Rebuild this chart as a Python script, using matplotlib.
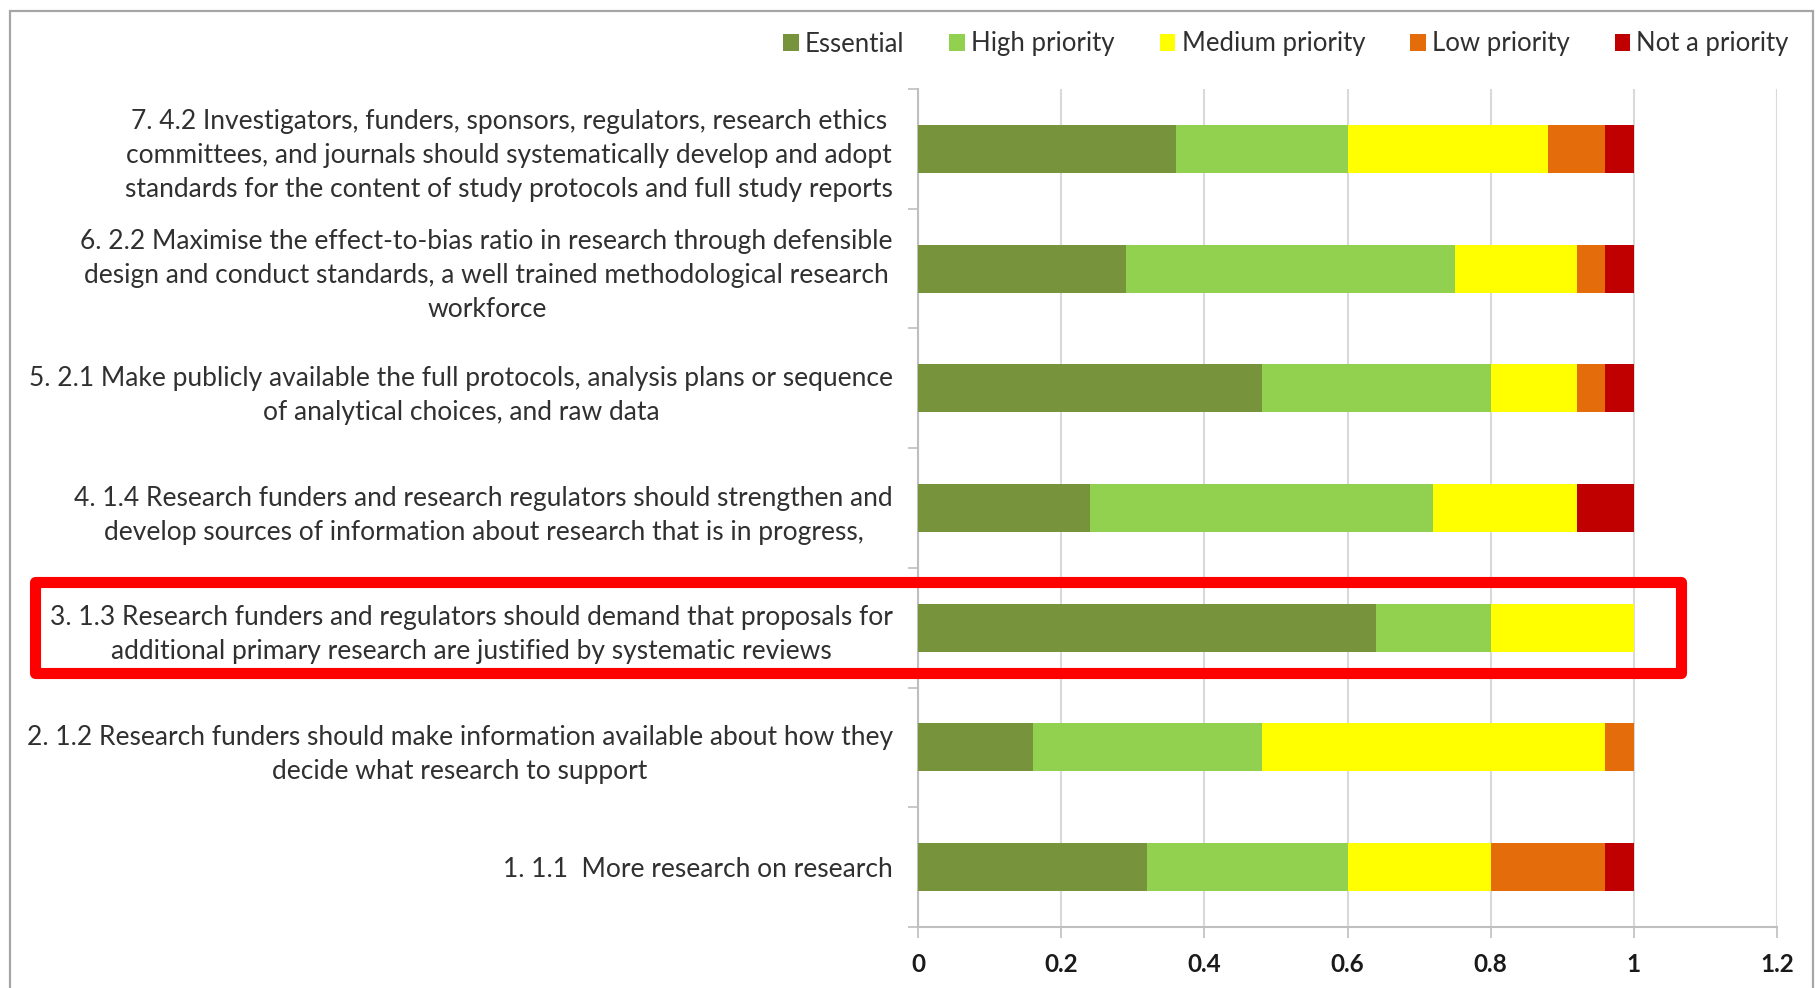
import matplotlib

matplotlib.use("Agg")
import matplotlib.pyplot as plt
import numpy as np
from matplotlib.patches import Patch, Rectangle
from matplotlib.transforms import blended_transform_factory

# recommendations, bottom to top
labels = [
    "1. 1.1  More research on research",
    "2. 1.2 Research funders should make information available about how they\n"
    "decide what research to support",
    "3. 1.3 Research funders and regulators should demand that proposals for\n"
    "additional primary research are justified by systematic reviews",
    "4. 1.4 Research funders and research regulators should strengthen and\n"
    "develop sources of information about research that is in progress,",
    "5. 2.1 Make publicly available the full protocols, analysis plans or sequence\n"
    "of analytical choices, and raw data",
    "6. 2.2 Maximise the effect-to-bias ratio in research through defensible\n"
    "design and conduct standards, a well trained methodological research\n"
    "workforce",
    "7. 4.2 Investigators, funders, sponsors, regulators, research ethics\n"
    "committees, and journals should systematically develop and adopt\n"
    "standards for the content of study protocols and full study reports",
]

# share of respondents per priority level
essential = [0.32, 0.16, 0.64, 0.24, 0.48, 0.29, 0.36]
high = [0.28, 0.32, 0.16, 0.48, 0.32, 0.46, 0.24]
medium = [0.20, 0.48, 0.20, 0.20, 0.12, 0.17, 0.28]
low = [0.16, 0.04, 0.00, 0.00, 0.04, 0.04, 0.08]
not_priority = [0.04, 0.00, 0.00, 0.08, 0.04, 0.04, 0.04]

series = ["Essential", "High priority", "Medium priority", "Low priority", "Not a priority"]
colors = ["#77933C", "#92D050", "#FFFF00", "#E46C0A", "#C00000"]
highlighted = 2  # row index of recommendation 3

xticks = [0, 0.2, 0.4, 0.6, 0.8, 1, 1.2]
xticklabels = ["0", "0.2", "0.4", "0.6", "0.8", "1", "1.2"]

FONT = ["Lato", "DejaVu Sans"]
TEXT = "#303030"
GRID = "#d9d9d9"
AXIS = "#bfbfbf"

fig = plt.figure(figsize=(18.16, 9.88), dpi=100)
ax = fig.add_axes([918 / 1816, 61 / 988, 859 / 1816, 838 / 988])

y = np.arange(len(labels))
left = np.zeros(len(labels))
for name, vals, col in zip(series, [essential, high, medium, low, not_priority], colors):
    vals = np.array(vals)
    ax.barh(y, vals, left=left, height=0.4, color=col, linewidth=0, zorder=3)
    left += vals

ax.set_xlim(0, 1.2)
ax.set_ylim(-0.5, len(labels) - 0.5)
ax.set_xticks(xticks)
ax.set_xticklabels(xticklabels, fontfamily=FONT, fontsize=17.5, fontweight="bold", color="#1a1a1a")
ax.set_yticks(y)
ax.set_yticklabels(labels, fontfamily=FONT, fontsize=19, color=TEXT, ma="center",
                   linespacing=1.45)
ax.set_yticks(np.arange(-0.5, len(labels), 1.0), minor=True)

ax.tick_params(axis="y", which="major", length=0, pad=18)
ax.tick_params(axis="y", which="minor", length=7, width=1.2, color=AXIS, direction="out")
ax.tick_params(axis="x", which="major", length=8, width=1.2, color=AXIS, pad=11)

ax.grid(axis="x", color=GRID, linewidth=1.5, zorder=0)
for side in ["top", "right"]:
    ax.spines[side].set_visible(False)
for side in ["left", "bottom"]:
    ax.spines[side].set_color(AXIS)
    ax.spines[side].set_linewidth(1.5)

# legend across the top
handles = [Patch(facecolor=c, edgecolor="none", label=s) for s, c in zip(series, colors)]
fig.legend(handles=handles, loc="center right", bbox_to_anchor=(1812 / 1816, 1 - 44 / 988),
           ncol=5, frameon=False, handlelength=0.6, handleheight=0.6, handletextpad=0.25,
           columnspacing=1.75, prop={"family": FONT, "size": 18.5}, labelcolor=TEXT)

# outer chart border
fig.patches.append(Rectangle((10 / 1816, -0.05), 1803 / 1816, 1.05 - 11 / 988,
                             transform=fig.transFigure, fill=False,
                             edgecolor="#a6a6a6", linewidth=1.6))

# red highlight around recommendation 3
trans = blended_transform_factory(fig.transFigure, ax.transData)
fig.patches.append(Rectangle((34.5 / 1816, highlighted - 0.38), 1646 / 1816, 0.76,
                             transform=trans, fill=False, edgecolor="#ff0000",
                             linewidth=8, joinstyle="round", zorder=10))

fig.savefig("out.png", dpi=100)
